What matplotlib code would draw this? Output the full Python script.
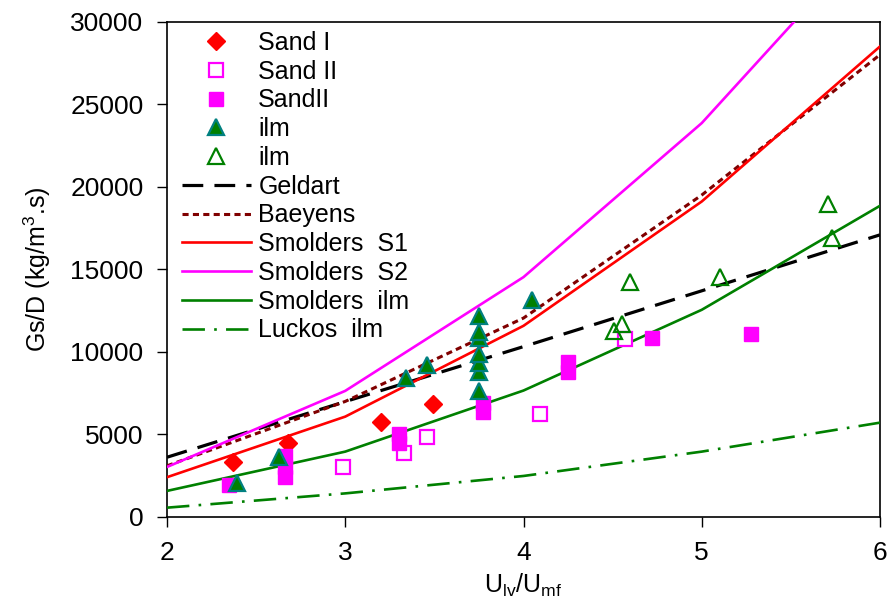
import matplotlib
matplotlib.use("Agg")
import matplotlib.pyplot as plt

plt.rcParams['font.family'] = ['Liberation Sans', 'DejaVu Sans']
plt.rcParams['mathtext.fontset'] = 'custom'
plt.rcParams['mathtext.rm'] = 'Liberation Sans'
plt.rcParams['mathtext.it'] = 'Liberation Sans:italic'

# ---- data ----
sand1_x = [2.37, 2.68, 3.20, 3.49]
sand1_y = [3350, 4470, 5780, 6850]

sand2_open_x = [2.99, 3.33, 3.46, 4.09, 4.57]
sand2_open_y = [3050, 3860, 4830, 6240, 10790]

sand2_fill_x = [2.35, 2.66, 2.66, 2.66, 3.30, 3.30, 3.77, 3.77, 4.25, 4.25, 4.72, 5.275]
sand2_fill_y = [1950, 2420, 3050, 3670, 4500, 5000, 6350, 6900, 8800, 9360, 10870, 11110]

ilm_fill_x = [2.39, 2.63, 3.34, 3.46, 3.75, 3.75, 3.75, 3.75, 3.75, 3.75, 3.75, 4.05]
ilm_fill_y = [2080, 3660, 8400, 9190, 7650, 8800, 9300, 9900, 10850, 11200, 12200, 13150]

ilm_open_x = [4.51, 4.55, 4.60, 5.10, 5.71, 5.73]
ilm_open_y = [11290, 11700, 14260, 14530, 18950, 16890]

line_x = [2, 3, 4, 5, 6]
geldart = [3620, 6990, 10320, 13700, 17090]
baeyens = [3100, 7000, 12050, 19500, 28000]
smolders_s1 = [2410, 6080, 11580, 19110, 28500]
smolders_s2 = [3030, 7640, 14530, 23860, 35700]
smolders_ilm = [1580, 3960, 7660, 12550, 18850]
luckos_ilm = [565, 1430, 2485, 3960, 5715]

xticks = [2, 3, 4, 5, 6]
yticks = [0, 5000, 10000, 15000, 20000, 25000, 30000]

# ---- figure ----
fig = plt.figure(figsize=(8.88, 6.01), dpi=100)
ax = fig.add_axes([167/888, 1 - 517/601, (880-167)/888, (517-21.7)/601])

lw = 1.9
h_sand1, = ax.plot(sand1_x, sand1_y, ls='none', marker='D', ms=9.5, color='#FF0000',
                   mec='#FF0000', label='Sand I', zorder=5)
h_sand2o, = ax.plot(sand2_open_x, sand2_open_y, ls='none', marker='s', ms=9.5, mfc='white',
                    mec='#FF00FF', mew=1.6, label='Sand II', zorder=4)
h_sand2f, = ax.plot(sand2_fill_x, sand2_fill_y, ls='none', marker='s', ms=10, color='#FF00FF',
                    mec='#FF00FF', label='SandII', zorder=5)
h_ilmf, = ax.plot(ilm_fill_x, ilm_fill_y, ls='none', marker='^', ms=11, mfc='#008000',
                  mec='#008080', mew=1.6, label='ilm', zorder=6)
h_ilmo, = ax.plot(ilm_open_x, ilm_open_y, ls='none', marker='^', ms=11, mfc='none',
                  mec='#008000', mew=1.6, label='ilm', zorder=6)

h_g, = ax.plot(line_x, geldart, color='black', lw=lw + 0.4, dashes=(6.5, 3.5), label='Geldart', zorder=3)
h_b, = ax.plot(line_x, baeyens, color='#800000', lw=lw + 0.3, dashes=(2.0, 1.4), label='Baeyens', zorder=3)
h_s1, = ax.plot(line_x, smolders_s1, color='#FF0000', lw=lw, label='Smolders  S1', zorder=3)
h_s2, = ax.plot(line_x, smolders_s2, color='#FF00FF', lw=lw, label='Smolders  S2', zorder=3)
h_si, = ax.plot(line_x, smolders_ilm, color='#008000', lw=lw, label='Smolders  ilm', zorder=3)
h_l, = ax.plot(line_x, luckos_ilm, color='#008000', lw=lw, dashes=(8.5, 3.5, 1, 3.5),
               label='Luckos  ilm', zorder=3)

ax.set_xlim(2, 6)
ax.set_ylim(0, 30000)
ax.set_xticks(xticks)
ax.set_yticks(yticks)
ax.set_xticklabels([str(t) for t in xticks])
ax.set_yticklabels([str(t) for t in yticks])
ax.tick_params(axis='both', direction='out', length=7, width=1, labelsize=19)
ax.tick_params(axis='y', pad=10)
ax.tick_params(axis='x', pad=10)
for s in ax.spines.values():
    s.set_linewidth(1.2)
    s.set_color('black')

ax.set_ylabel('Gs/D (kg/m$^3$.s)', fontsize=18, labelpad=12)
ax.set_xlabel('U$_{\\mathrm{lv}}$/U$_{\\mathrm{mf}}$', fontsize=18, labelpad=5)

handles = [h_sand1, h_sand2o, h_sand2f, h_ilmf, h_ilmo, h_g, h_b, h_s1, h_s2, h_si, h_l]
ax.legend(handles=handles, loc='upper left', bbox_to_anchor=(0.0, 1.012), frameon=False,
          fontsize=18, handlelength=2.75, handletextpad=0.3, labelspacing=0.19,
          borderaxespad=0.3, borderpad=0.3)

fig.savefig('out.png', dpi=100)
